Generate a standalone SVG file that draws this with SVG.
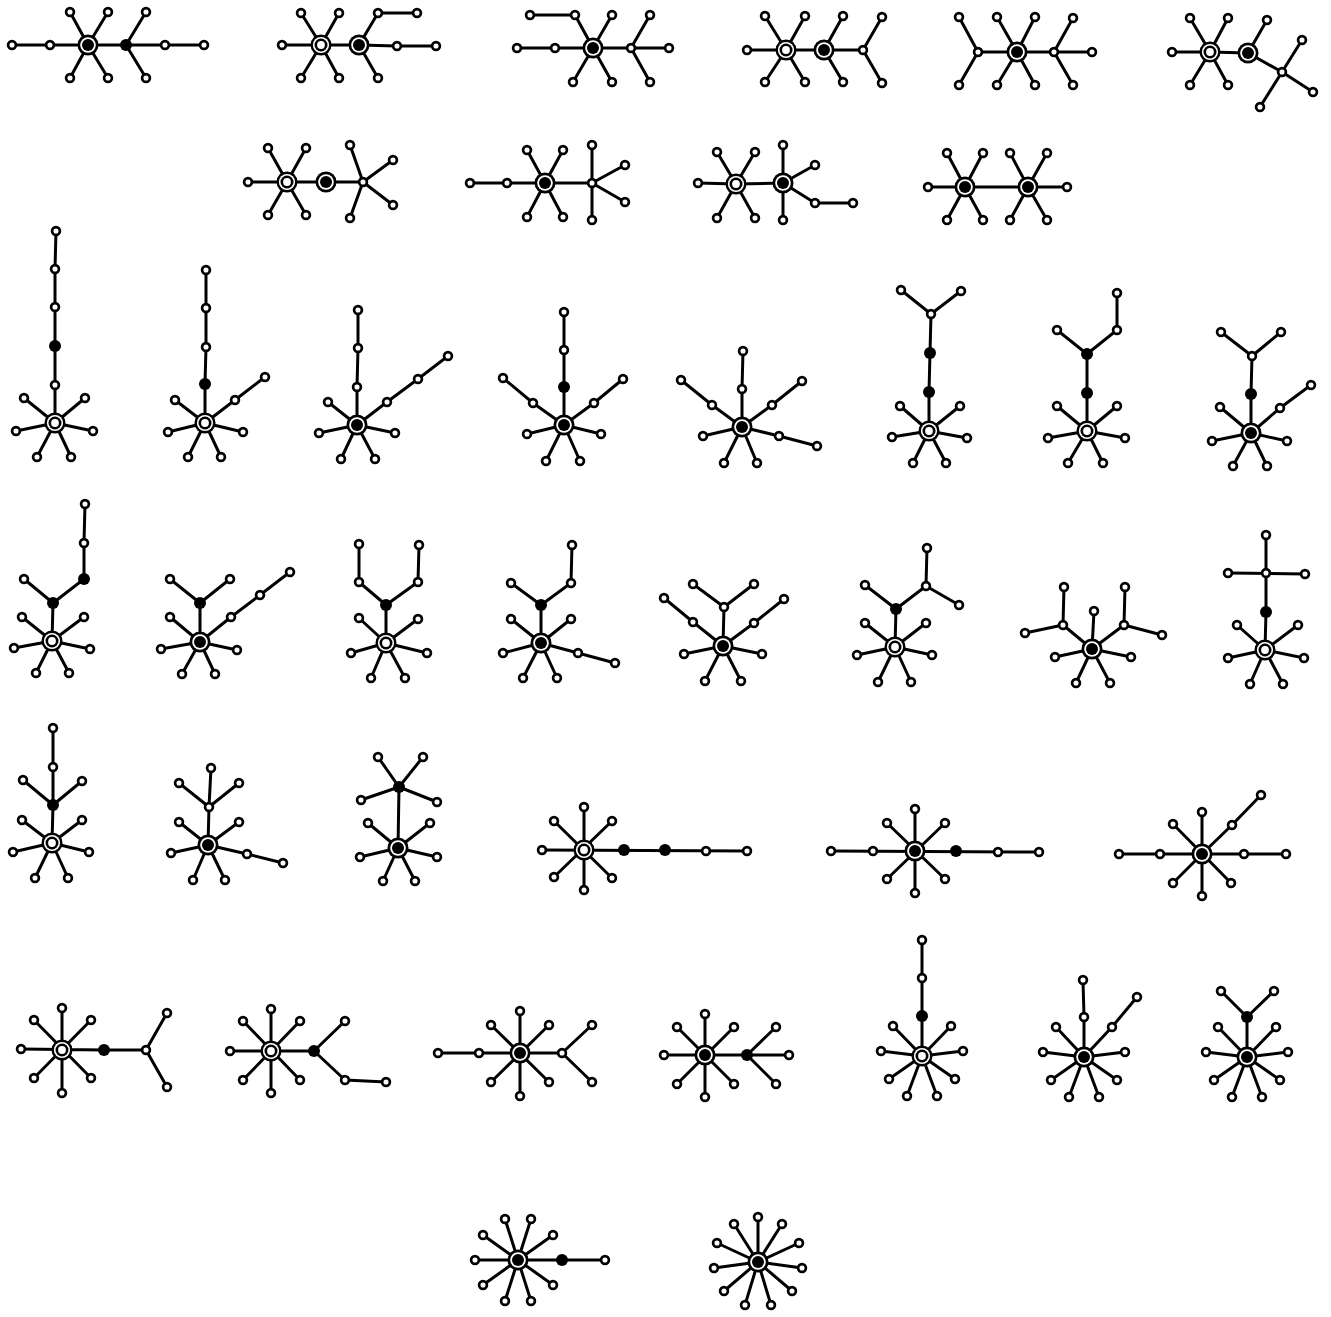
<svg xmlns="http://www.w3.org/2000/svg" xmlns:xlink="http://www.w3.org/1999/xlink" width="1331" height="1317" viewBox="0 0 1331 1317">
<style>
.e{fill:none;stroke:#000;stroke-width:3;stroke-linecap:round;stroke-linejoin:round}
.l circle{fill:#fff;stroke:#000;stroke-width:2.7;r:3.9px}
.b circle{fill:#000;r:6px}
</style>
<defs>
<g id="F"><circle r="10.5" fill="#000"/><circle r="7.8" fill="#fff"/><circle r="6" fill="#000"/></g>
<g id="O"><circle r="10.5" fill="#000"/><circle r="8.1" fill="#fff"/><circle r="6.5" fill="#000"/><circle r="3.9" fill="#fff"/></g>
</defs>
<rect width="1331" height="1317" fill="#fff"/>
<g id="connectors" class="e">
<path d="M12 45H204M88 45L70 12M88 45L108 12M88 45L70 78M88 45L108 78M126 45L146 12M126 45L146 78"/>
<path d="M282 45L321 45L359 45L397 46L436 46M321 45L301 13M321 45L339 13M321 45L301 78M321 45L339 78M359 45L378 13L417 13M359 45L378 78"/>
<path d="M530 15L575 15L593 48M517 48L669 48M593 48L612 15M593 48L573 82M593 48L612 82M631 48L650 15M631 48L650 82"/>
<path d="M747 50L863 50M786 50L765 16M786 50L805 16M786 50L765 82M786 50L805 82M824 50L843 16M824 50L843 82M863 50L882 17M863 50L882 83"/>
<path d="M978 52L1092 52M978 52L959 17M978 52L959 85M1017 52L997 17M1017 52L1035 17M1017 52L997 85M1017 52L1035 85M1054 52L1073 18M1054 52L1073 85"/>
<path d="M1172 52L1210 52L1248 53L1282 72M1210 52L1190 18M1210 52L1228 18M1210 52L1190 85M1210 52L1228 85M1248 53L1267 20M1282 72L1302 40M1282 72L1313 92M1282 72L1260 107"/>
<path d="M248 182L363 182M287 182L268 148M287 182L306 148M287 182L268 215M287 182L306 215M363 182L350 145M363 182L393 160M363 182L393 205M363 182L350 218"/>
<path d="M470 183L592 183M545 183L527 150M545 183L563 150M545 183L527 217M545 183L563 217M592 183L592 145M592 183L625 165M592 183L625 202M592 183L592 220"/>
<path d="M698 183L736 184L783 183M736 184L717 152M736 184L755 152M736 184L717 218M736 184L755 218M783 183L783 145M783 183L815 165M783 183L815 203L853 203M783 183L783 220"/>
<path d="M928 187L1067 187M965 187L947 153M965 187L983 153M965 187L947 220M965 187L983 220M1028 187L1010 153M1028 187L1047 153M1028 187L1010 220M1028 187L1047 220"/>
<path d="M55 423L55 269L56 231M55 423L24 398M55 423L85 398M55 423L16 431M55 423L93 431M55 423L37 457M55 423L71 457"/>
<path d="M205 423L205 384L206 347L206 270M205 423L235 400L265 377M205 423L175 400M205 423L168 432M205 423L243 432M205 423L188 457M205 423L221 457"/>
<path d="M357 425L357 387L358 348L358 310M357 425L387 402L418 379L448 356M357 425L328 402M357 425L319 433M357 425L395 433M357 425L341 459M357 425L375 459"/>
<path d="M564 425L564 312M564 425L533 403L503 378M564 425L594 403L623 379M564 425L527 434M564 425L601 434M564 425L546 461M564 425L580 461"/>
<path d="M742 427L742 389L743 351M742 427L712 405L681 380M742 427L772 405L802 381M742 427L703 436M742 427L779 436L817 446M742 427L724 463M742 427L757 463"/>
<path d="M929 431L929 392L930 353L931 314L901 290M931 314L961 291M929 431L900 406M929 431L960 406M929 431L892 437M929 431L967 438M929 431L913 463M929 431L946 463"/>
<path d="M1087 431L1087 354L1057 330M1087 354L1117 330L1117 293M1087 431L1057 406M1087 431L1117 406M1087 431L1048 438M1087 431L1125 438M1087 431L1068 463M1087 431L1103 463"/>
<path d="M1251 433L1251 394L1252 356L1221 332M1252 356L1281 332M1251 433L1280 408L1311 385M1251 433L1220 407M1251 433L1212 441M1251 433L1287 441M1251 433L1233 466M1251 433L1267 466"/>
<path d="M52 641L53 603L84 579L84 543L85 504M53 603L24 579M52 641L22 617M52 641L84 617M52 641L14 648M52 641L90 649M52 641L36 673M52 641L69 673"/>
<path d="M200 642L200 603L170 579M200 603L230 579M200 642L231 617L260 595L290 572M200 642L170 617M200 642L161 649M200 642L237 650M200 642L182 674M200 642L215 674"/>
<path d="M386 643L386 605L359 582L359 544M386 605L418 582L419 545M386 643L359 618M386 643L418 619M386 643L351 653M386 643L427 653M386 643L371 678M386 643L405 678"/>
<path d="M541 643L541 605L511 583M541 605L571 583L572 545M541 643L578 653L615 663M541 643L511 619M541 643L571 619M541 643L503 653M541 643L523 678M541 643L557 678"/>
<path d="M723 646L724 607L693 584M724 607L754 584M723 646L693 622L664 598M723 646L754 623L784 599M723 646L684 654M723 646L762 654M723 646L705 681M723 646L741 681"/>
<path d="M895 647L896 609L865 585M896 609L926 586L927 548M926 586L959 605M895 647L865 623M895 647L926 623M895 647L857 655M895 647L932 655M895 647L878 682M895 647L911 682"/>
<path d="M1092 649L1063 625L1064 587M1063 625L1025 633M1092 649L1124 625L1125 587M1124 625L1162 635M1092 649L1094 611M1092 649L1055 657M1092 649L1131 657M1092 649L1076 683M1092 649L1110 683"/>
<path d="M1265 650L1266 612L1266 535M1228 573L1305 574M1265 650L1237 625M1265 650L1298 625M1265 650L1228 658M1265 650L1304 658M1265 650L1250 684M1265 650L1283 684"/>
<path d="M52 843L53 805L53 767L53 728M53 805L23 780M53 805L82 781M52 843L22 820M52 843L82 820M52 843L13 852M52 843L89 852M52 843L35 878M52 843L68 878"/>
<path d="M208 845L209 807L211 768M209 807L179 783M209 807L239 783M208 845L247 854L283 863M208 845L179 822M208 845L239 822M208 845L171 853M208 845L193 880M208 845L225 880"/>
<path d="M398 848L399 787L378 757M399 787L423 757M399 787L361 800M399 787L437 802M398 848L368 823M398 848L430 823M398 848L360 857M398 848L437 857M398 848L383 881M398 848L415 881"/>
<path d="M542 850L747 851M584 807L584 890M554 821L612 878M612 821L554 877"/>
<path d="M831 851L1039 852M915 809L915 893M887 823L945 879M945 823L887 879"/>
<path d="M1119 854L1286 854M1202 812L1202 896M1173 824L1231 883M1202 854L1232 825L1261 795M1202 854L1173 883"/>
<path d="M21 1049L104 1050L146 1050M62 1008L62 1093M34 1020L91 1078M91 1020L34 1078M146 1050L167 1013M146 1050L167 1087"/>
<path d="M230 1051L314 1051L345 1021M314 1051L345 1080L386 1082M271 1009L271 1093M243 1021L300 1080M300 1021L243 1080"/>
<path d="M438 1053L562 1053L592 1025M562 1053L592 1082M520 1011L520 1096M491 1025L549 1082M549 1025L491 1082"/>
<path d="M664 1055L789 1055M747 1055L776 1027M747 1055L776 1084M705 1014L705 1097M677 1027L734 1084M734 1027L677 1084"/>
<path d="M922 1056L922 940M922 1056L893 1026M922 1056L951 1026M922 1056L881 1051M922 1056L963 1051M922 1056L889 1079M922 1056L955 1079M922 1056L907 1096M922 1056L937 1096"/>
<path d="M1084 1057L1084 1017L1083 980M1084 1057L1112 1027L1137 997M1084 1057L1056 1027M1084 1057L1043 1052M1084 1057L1125 1052M1084 1057L1051 1080M1084 1057L1117 1080M1084 1057L1069 1097M1084 1057L1099 1097"/>
<path d="M1247 1057L1247 1017L1221 991M1247 1017L1274 991M1247 1057L1218 1027M1247 1057L1276 1027M1247 1057L1206 1052M1247 1057L1288 1052M1247 1057L1214 1080M1247 1057L1280 1080M1247 1057L1232 1097M1247 1057L1262 1097"/>
<path d="M518 1260L605 1260M518 1260L553 1235M518 1260L531 1219M518 1260L505 1219M518 1260L483 1235M518 1260L475 1260M518 1260L483 1285M518 1260L505 1301M518 1260L531 1301M518 1260L553 1285"/>
<path d="M758 1262L758 1217M758 1262L782 1224M758 1262L799 1243M758 1262L802 1268M758 1262L792 1291M758 1262L771 1305M758 1262L745 1305M758 1262L724 1291M758 1262L714 1268M758 1262L717 1243M758 1262L734 1224"/>
</g>
<g id="tree1"><g class="l"><circle cx="12" cy="45" r="3.9"/><circle cx="50" cy="45" r="3.9"/><circle cx="165" cy="45" r="3.9"/><circle cx="204" cy="45" r="3.9"/><circle cx="70" cy="12" r="3.9"/><circle cx="108" cy="12" r="3.9"/><circle cx="70" cy="78" r="3.9"/><circle cx="108" cy="78" r="3.9"/><circle cx="146" cy="12" r="3.9"/><circle cx="146" cy="78" r="3.9"/></g><g class="b"><circle cx="126" cy="45" r="6"/></g><use href="#F" x="88" y="45"/></g>
<g id="tree2"><g class="l"><circle cx="282" cy="45" r="3.9"/><circle cx="397" cy="46" r="3.9"/><circle cx="436" cy="46" r="3.9"/><circle cx="301" cy="13" r="3.9"/><circle cx="339" cy="13" r="3.9"/><circle cx="301" cy="78" r="3.9"/><circle cx="339" cy="78" r="3.9"/><circle cx="378" cy="13" r="3.9"/><circle cx="417" cy="13" r="3.9"/><circle cx="378" cy="78" r="3.9"/></g><use href="#O" x="321" y="45"/><use href="#F" x="359" y="45"/></g>
<g id="tree3"><g class="l"><circle cx="530" cy="15" r="3.9"/><circle cx="575" cy="15" r="3.9"/><circle cx="517" cy="48" r="3.9"/><circle cx="555" cy="48" r="3.9"/><circle cx="612" cy="15" r="3.9"/><circle cx="631" cy="48" r="3.9"/><circle cx="650" cy="15" r="3.9"/><circle cx="669" cy="48" r="3.9"/><circle cx="650" cy="82" r="3.9"/><circle cx="573" cy="82" r="3.9"/><circle cx="612" cy="82" r="3.9"/></g><use href="#F" x="593" y="48"/></g>
<g id="tree4"><g class="l"><circle cx="747" cy="50" r="3.9"/><circle cx="863" cy="50" r="3.9"/><circle cx="765" cy="16" r="3.9"/><circle cx="805" cy="16" r="3.9"/><circle cx="765" cy="82" r="3.9"/><circle cx="805" cy="82" r="3.9"/><circle cx="843" cy="16" r="3.9"/><circle cx="843" cy="82" r="3.9"/><circle cx="882" cy="17" r="3.9"/><circle cx="882" cy="83" r="3.9"/></g><use href="#O" x="786" y="50"/><use href="#F" x="824" y="50"/></g>
<g id="tree5"><g class="l"><circle cx="978" cy="52" r="3.9"/><circle cx="959" cy="17" r="3.9"/><circle cx="959" cy="85" r="3.9"/><circle cx="997" cy="17" r="3.9"/><circle cx="1035" cy="17" r="3.9"/><circle cx="997" cy="85" r="3.9"/><circle cx="1035" cy="85" r="3.9"/><circle cx="1054" cy="52" r="3.9"/><circle cx="1073" cy="18" r="3.9"/><circle cx="1092" cy="52" r="3.9"/><circle cx="1073" cy="85" r="3.9"/></g><use href="#F" x="1017" y="52"/></g>
<g id="tree6"><g class="l"><circle cx="1172" cy="52" r="3.9"/><circle cx="1190" cy="18" r="3.9"/><circle cx="1228" cy="18" r="3.9"/><circle cx="1190" cy="85" r="3.9"/><circle cx="1228" cy="85" r="3.9"/><circle cx="1267" cy="20" r="3.9"/><circle cx="1282" cy="72" r="3.9"/><circle cx="1302" cy="40" r="3.9"/><circle cx="1313" cy="92" r="3.9"/><circle cx="1260" cy="107" r="3.9"/></g><use href="#O" x="1210" y="52"/><use href="#F" x="1248" y="53"/></g>
<g id="tree7"><g class="l"><circle cx="248" cy="182" r="3.9"/><circle cx="363" cy="182" r="3.9"/><circle cx="268" cy="148" r="3.9"/><circle cx="306" cy="148" r="3.9"/><circle cx="268" cy="215" r="3.9"/><circle cx="306" cy="215" r="3.9"/><circle cx="350" cy="145" r="3.9"/><circle cx="393" cy="160" r="3.9"/><circle cx="393" cy="205" r="3.9"/><circle cx="350" cy="218" r="3.9"/></g><use href="#O" x="287" y="182"/><use href="#F" x="326" y="182"/></g>
<g id="tree8"><g class="l"><circle cx="470" cy="183" r="3.9"/><circle cx="507" cy="183" r="3.9"/><circle cx="592" cy="183" r="3.9"/><circle cx="527" cy="150" r="3.9"/><circle cx="563" cy="150" r="3.9"/><circle cx="527" cy="217" r="3.9"/><circle cx="563" cy="217" r="3.9"/><circle cx="592" cy="145" r="3.9"/><circle cx="625" cy="165" r="3.9"/><circle cx="625" cy="202" r="3.9"/><circle cx="592" cy="220" r="3.9"/></g><use href="#F" x="545" y="183"/></g>
<g id="tree9"><g class="l"><circle cx="698" cy="183" r="3.9"/><circle cx="717" cy="152" r="3.9"/><circle cx="755" cy="152" r="3.9"/><circle cx="717" cy="218" r="3.9"/><circle cx="755" cy="218" r="3.9"/><circle cx="783" cy="145" r="3.9"/><circle cx="815" cy="165" r="3.9"/><circle cx="815" cy="203" r="3.9"/><circle cx="853" cy="203" r="3.9"/><circle cx="783" cy="220" r="3.9"/></g><use href="#O" x="736" y="184"/><use href="#F" x="783" y="183"/></g>
<g id="tree10"><g class="l"><circle cx="928" cy="187" r="3.9"/><circle cx="1067" cy="187" r="3.9"/><circle cx="947" cy="153" r="3.9"/><circle cx="983" cy="153" r="3.9"/><circle cx="947" cy="220" r="3.9"/><circle cx="983" cy="220" r="3.9"/><circle cx="1010" cy="153" r="3.9"/><circle cx="1047" cy="153" r="3.9"/><circle cx="1010" cy="220" r="3.9"/><circle cx="1047" cy="220" r="3.9"/></g><use href="#F" x="965" y="187"/><use href="#F" x="1028" y="187"/></g>
<g id="tree11"><g class="l"><circle cx="55" cy="385" r="3.9"/><circle cx="55" cy="307" r="3.9"/><circle cx="55" cy="269" r="3.9"/><circle cx="56" cy="231" r="3.9"/><circle cx="24" cy="398" r="3.9"/><circle cx="85" cy="398" r="3.9"/><circle cx="16" cy="431" r="3.9"/><circle cx="93" cy="431" r="3.9"/><circle cx="37" cy="457" r="3.9"/><circle cx="71" cy="457" r="3.9"/></g><g class="b"><circle cx="55" cy="346" r="6"/></g><use href="#O" x="55" y="423"/></g>
<g id="tree12"><g class="l"><circle cx="206" cy="347" r="3.9"/><circle cx="206" cy="308" r="3.9"/><circle cx="206" cy="270" r="3.9"/><circle cx="235" cy="400" r="3.9"/><circle cx="265" cy="377" r="3.9"/><circle cx="175" cy="400" r="3.9"/><circle cx="168" cy="432" r="3.9"/><circle cx="243" cy="432" r="3.9"/><circle cx="188" cy="457" r="3.9"/><circle cx="221" cy="457" r="3.9"/></g><g class="b"><circle cx="205" cy="384" r="6"/></g><use href="#O" x="205" y="423"/></g>
<g id="tree13"><g class="l"><circle cx="357" cy="387" r="3.9"/><circle cx="358" cy="348" r="3.9"/><circle cx="358" cy="310" r="3.9"/><circle cx="387" cy="402" r="3.9"/><circle cx="418" cy="379" r="3.9"/><circle cx="448" cy="356" r="3.9"/><circle cx="328" cy="402" r="3.9"/><circle cx="319" cy="433" r="3.9"/><circle cx="395" cy="433" r="3.9"/><circle cx="341" cy="459" r="3.9"/><circle cx="375" cy="459" r="3.9"/></g><use href="#F" x="357" y="425"/></g>
<g id="tree14"><g class="l"><circle cx="564" cy="350" r="3.9"/><circle cx="564" cy="312" r="3.9"/><circle cx="533" cy="403" r="3.9"/><circle cx="503" cy="378" r="3.9"/><circle cx="594" cy="403" r="3.9"/><circle cx="623" cy="379" r="3.9"/><circle cx="527" cy="434" r="3.9"/><circle cx="601" cy="434" r="3.9"/><circle cx="546" cy="461" r="3.9"/><circle cx="580" cy="461" r="3.9"/></g><g class="b"><circle cx="564" cy="387" r="6"/></g><use href="#F" x="564" y="425"/></g>
<g id="tree15"><g class="l"><circle cx="742" cy="389" r="3.9"/><circle cx="743" cy="351" r="3.9"/><circle cx="712" cy="405" r="3.9"/><circle cx="681" cy="380" r="3.9"/><circle cx="772" cy="405" r="3.9"/><circle cx="802" cy="381" r="3.9"/><circle cx="703" cy="436" r="3.9"/><circle cx="779" cy="436" r="3.9"/><circle cx="817" cy="446" r="3.9"/><circle cx="724" cy="463" r="3.9"/><circle cx="757" cy="463" r="3.9"/></g><use href="#F" x="742" y="427"/></g>
<g id="tree16"><g class="l"><circle cx="931" cy="314" r="3.9"/><circle cx="901" cy="290" r="3.9"/><circle cx="961" cy="291" r="3.9"/><circle cx="900" cy="406" r="3.9"/><circle cx="960" cy="406" r="3.9"/><circle cx="892" cy="437" r="3.9"/><circle cx="967" cy="438" r="3.9"/><circle cx="913" cy="463" r="3.9"/><circle cx="946" cy="463" r="3.9"/></g><g class="b"><circle cx="929" cy="392" r="6"/><circle cx="930" cy="353" r="6"/></g><use href="#O" x="929" y="431"/></g>
<g id="tree17"><g class="l"><circle cx="1057" cy="330" r="3.9"/><circle cx="1117" cy="330" r="3.9"/><circle cx="1117" cy="293" r="3.9"/><circle cx="1057" cy="406" r="3.9"/><circle cx="1117" cy="406" r="3.9"/><circle cx="1048" cy="438" r="3.9"/><circle cx="1125" cy="438" r="3.9"/><circle cx="1068" cy="463" r="3.9"/><circle cx="1103" cy="463" r="3.9"/></g><g class="b"><circle cx="1087" cy="393" r="6"/><circle cx="1087" cy="354" r="6"/></g><use href="#O" x="1087" y="431"/></g>
<g id="tree18"><g class="l"><circle cx="1252" cy="356" r="3.9"/><circle cx="1221" cy="332" r="3.9"/><circle cx="1281" cy="332" r="3.9"/><circle cx="1280" cy="408" r="3.9"/><circle cx="1311" cy="385" r="3.9"/><circle cx="1220" cy="407" r="3.9"/><circle cx="1212" cy="441" r="3.9"/><circle cx="1287" cy="441" r="3.9"/><circle cx="1233" cy="466" r="3.9"/><circle cx="1267" cy="466" r="3.9"/></g><g class="b"><circle cx="1251" cy="394" r="6"/></g><use href="#F" x="1251" y="433"/></g>
<g id="tree19"><g class="l"><circle cx="84" cy="543" r="3.9"/><circle cx="85" cy="504" r="3.9"/><circle cx="24" cy="579" r="3.9"/><circle cx="22" cy="617" r="3.9"/><circle cx="84" cy="617" r="3.9"/><circle cx="14" cy="648" r="3.9"/><circle cx="90" cy="649" r="3.9"/><circle cx="36" cy="673" r="3.9"/><circle cx="69" cy="673" r="3.9"/></g><g class="b"><circle cx="53" cy="603" r="6"/><circle cx="84" cy="579" r="6"/></g><use href="#O" x="52" y="641"/></g>
<g id="tree20"><g class="l"><circle cx="170" cy="579" r="3.9"/><circle cx="230" cy="579" r="3.9"/><circle cx="231" cy="617" r="3.9"/><circle cx="260" cy="595" r="3.9"/><circle cx="290" cy="572" r="3.9"/><circle cx="170" cy="617" r="3.9"/><circle cx="161" cy="649" r="3.9"/><circle cx="237" cy="650" r="3.9"/><circle cx="182" cy="674" r="3.9"/><circle cx="215" cy="674" r="3.9"/></g><g class="b"><circle cx="200" cy="603" r="6"/></g><use href="#F" x="200" y="642"/></g>
<g id="tree21"><g class="l"><circle cx="359" cy="582" r="3.9"/><circle cx="359" cy="544" r="3.9"/><circle cx="418" cy="582" r="3.9"/><circle cx="419" cy="545" r="3.9"/><circle cx="359" cy="618" r="3.9"/><circle cx="418" cy="619" r="3.9"/><circle cx="351" cy="653" r="3.9"/><circle cx="427" cy="653" r="3.9"/><circle cx="371" cy="678" r="3.9"/><circle cx="405" cy="678" r="3.9"/></g><g class="b"><circle cx="386" cy="605" r="6"/></g><use href="#O" x="386" y="643"/></g>
<g id="tree22"><g class="l"><circle cx="511" cy="583" r="3.9"/><circle cx="571" cy="583" r="3.9"/><circle cx="572" cy="545" r="3.9"/><circle cx="578" cy="653" r="3.9"/><circle cx="615" cy="663" r="3.9"/><circle cx="511" cy="619" r="3.9"/><circle cx="571" cy="619" r="3.9"/><circle cx="503" cy="653" r="3.9"/><circle cx="523" cy="678" r="3.9"/><circle cx="557" cy="678" r="3.9"/></g><g class="b"><circle cx="541" cy="605" r="6"/></g><use href="#F" x="541" y="643"/></g>
<g id="tree23"><g class="l"><circle cx="724" cy="607" r="3.9"/><circle cx="693" cy="584" r="3.9"/><circle cx="754" cy="584" r="3.9"/><circle cx="693" cy="622" r="3.9"/><circle cx="664" cy="598" r="3.9"/><circle cx="754" cy="623" r="3.9"/><circle cx="784" cy="599" r="3.9"/><circle cx="684" cy="654" r="3.9"/><circle cx="762" cy="654" r="3.9"/><circle cx="705" cy="681" r="3.9"/><circle cx="741" cy="681" r="3.9"/></g><use href="#F" x="723" y="646"/></g>
<g id="tree24"><g class="l"><circle cx="865" cy="585" r="3.9"/><circle cx="926" cy="586" r="3.9"/><circle cx="927" cy="548" r="3.9"/><circle cx="959" cy="605" r="3.9"/><circle cx="865" cy="623" r="3.9"/><circle cx="926" cy="623" r="3.9"/><circle cx="857" cy="655" r="3.9"/><circle cx="932" cy="655" r="3.9"/><circle cx="878" cy="682" r="3.9"/><circle cx="911" cy="682" r="3.9"/></g><g class="b"><circle cx="896" cy="609" r="6"/></g><use href="#O" x="895" y="647"/></g>
<g id="tree25"><g class="l"><circle cx="1063" cy="625" r="3.9"/><circle cx="1064" cy="587" r="3.9"/><circle cx="1025" cy="633" r="3.9"/><circle cx="1124" cy="625" r="3.9"/><circle cx="1125" cy="587" r="3.9"/><circle cx="1162" cy="635" r="3.9"/><circle cx="1094" cy="611" r="3.9"/><circle cx="1055" cy="657" r="3.9"/><circle cx="1131" cy="657" r="3.9"/><circle cx="1076" cy="683" r="3.9"/><circle cx="1110" cy="683" r="3.9"/></g><use href="#F" x="1092" y="649"/></g>
<g id="tree26"><g class="l"><circle cx="1266" cy="573" r="3.9"/><circle cx="1266" cy="535" r="3.9"/><circle cx="1228" cy="573" r="3.9"/><circle cx="1305" cy="574" r="3.9"/><circle cx="1237" cy="625" r="3.9"/><circle cx="1298" cy="625" r="3.9"/><circle cx="1228" cy="658" r="3.9"/><circle cx="1304" cy="658" r="3.9"/><circle cx="1250" cy="684" r="3.9"/><circle cx="1283" cy="684" r="3.9"/></g><g class="b"><circle cx="1266" cy="612" r="6"/></g><use href="#O" x="1265" y="650"/></g>
<g id="tree27"><g class="l"><circle cx="23" cy="780" r="3.9"/><circle cx="82" cy="781" r="3.9"/><circle cx="53" cy="767" r="3.9"/><circle cx="53" cy="728" r="3.9"/><circle cx="22" cy="820" r="3.9"/><circle cx="82" cy="820" r="3.9"/><circle cx="13" cy="852" r="3.9"/><circle cx="89" cy="852" r="3.9"/><circle cx="35" cy="878" r="3.9"/><circle cx="68" cy="878" r="3.9"/></g><g class="b"><circle cx="53" cy="805" r="6"/></g><use href="#O" x="52" y="843"/></g>
<g id="tree28"><g class="l"><circle cx="209" cy="807" r="3.9"/><circle cx="179" cy="783" r="3.9"/><circle cx="211" cy="768" r="3.9"/><circle cx="239" cy="783" r="3.9"/><circle cx="247" cy="854" r="3.9"/><circle cx="283" cy="863" r="3.9"/><circle cx="179" cy="822" r="3.9"/><circle cx="239" cy="822" r="3.9"/><circle cx="171" cy="853" r="3.9"/><circle cx="193" cy="880" r="3.9"/><circle cx="225" cy="880" r="3.9"/></g><use href="#F" x="208" y="845"/></g>
<g id="tree29"><g class="l"><circle cx="378" cy="757" r="3.9"/><circle cx="423" cy="757" r="3.9"/><circle cx="361" cy="800" r="3.9"/><circle cx="437" cy="802" r="3.9"/><circle cx="368" cy="823" r="3.9"/><circle cx="430" cy="823" r="3.9"/><circle cx="360" cy="857" r="3.9"/><circle cx="437" cy="857" r="3.9"/><circle cx="383" cy="881" r="3.9"/><circle cx="415" cy="881" r="3.9"/></g><g class="b"><circle cx="399" cy="787" r="6"/></g><use href="#F" x="398" y="848"/></g>
<g id="tree30"><g class="l"><circle cx="706" cy="851" r="3.9"/><circle cx="747" cy="851" r="3.9"/><circle cx="542" cy="850" r="3.9"/><circle cx="584" cy="807" r="3.9"/><circle cx="584" cy="890" r="3.9"/><circle cx="554" cy="821" r="3.9"/><circle cx="612" cy="821" r="3.9"/><circle cx="554" cy="877" r="3.9"/><circle cx="612" cy="878" r="3.9"/></g><g class="b"><circle cx="624" cy="850" r="6"/><circle cx="665" cy="850" r="6"/></g><use href="#O" x="584" y="850"/></g>
<g id="tree31"><g class="l"><circle cx="873" cy="851" r="3.9"/><circle cx="831" cy="851" r="3.9"/><circle cx="998" cy="852" r="3.9"/><circle cx="1039" cy="852" r="3.9"/><circle cx="915" cy="809" r="3.9"/><circle cx="915" cy="893" r="3.9"/><circle cx="887" cy="823" r="3.9"/><circle cx="945" cy="823" r="3.9"/><circle cx="887" cy="879" r="3.9"/><circle cx="945" cy="879" r="3.9"/></g><g class="b"><circle cx="956" cy="851" r="6"/></g><use href="#F" x="915" y="851"/></g>
<g id="tree32"><g class="l"><circle cx="1160" cy="854" r="3.9"/><circle cx="1119" cy="854" r="3.9"/><circle cx="1244" cy="854" r="3.9"/><circle cx="1286" cy="854" r="3.9"/><circle cx="1202" cy="812" r="3.9"/><circle cx="1202" cy="896" r="3.9"/><circle cx="1173" cy="824" r="3.9"/><circle cx="1232" cy="825" r="3.9"/><circle cx="1261" cy="795" r="3.9"/><circle cx="1173" cy="883" r="3.9"/><circle cx="1231" cy="883" r="3.9"/></g><use href="#F" x="1202" y="854"/></g>
<g id="tree33"><g class="l"><circle cx="21" cy="1049" r="3.9"/><circle cx="62" cy="1008" r="3.9"/><circle cx="62" cy="1093" r="3.9"/><circle cx="34" cy="1020" r="3.9"/><circle cx="91" cy="1020" r="3.9"/><circle cx="34" cy="1078" r="3.9"/><circle cx="91" cy="1078" r="3.9"/><circle cx="146" cy="1050" r="3.9"/><circle cx="167" cy="1013" r="3.9"/><circle cx="167" cy="1087" r="3.9"/></g><g class="b"><circle cx="104" cy="1050" r="6"/></g><use href="#O" x="62" y="1050"/></g>
<g id="tree34"><g class="l"><circle cx="230" cy="1051" r="3.9"/><circle cx="271" cy="1009" r="3.9"/><circle cx="271" cy="1093" r="3.9"/><circle cx="243" cy="1021" r="3.9"/><circle cx="300" cy="1021" r="3.9"/><circle cx="243" cy="1080" r="3.9"/><circle cx="300" cy="1080" r="3.9"/><circle cx="345" cy="1021" r="3.9"/><circle cx="345" cy="1080" r="3.9"/><circle cx="386" cy="1082" r="3.9"/></g><g class="b"><circle cx="314" cy="1051" r="6"/></g><use href="#O" x="271" y="1051"/></g>
<g id="tree35"><g class="l"><circle cx="479" cy="1053" r="3.9"/><circle cx="438" cy="1053" r="3.9"/><circle cx="520" cy="1011" r="3.9"/><circle cx="520" cy="1096" r="3.9"/><circle cx="491" cy="1025" r="3.9"/><circle cx="549" cy="1025" r="3.9"/><circle cx="491" cy="1082" r="3.9"/><circle cx="549" cy="1082" r="3.9"/><circle cx="562" cy="1053" r="3.9"/><circle cx="592" cy="1025" r="3.9"/><circle cx="592" cy="1082" r="3.9"/></g><use href="#F" x="520" y="1053"/></g>
<g id="tree36"><g class="l"><circle cx="664" cy="1055" r="3.9"/><circle cx="705" cy="1014" r="3.9"/><circle cx="705" cy="1097" r="3.9"/><circle cx="677" cy="1027" r="3.9"/><circle cx="734" cy="1027" r="3.9"/><circle cx="677" cy="1084" r="3.9"/><circle cx="734" cy="1084" r="3.9"/><circle cx="776" cy="1027" r="3.9"/><circle cx="776" cy="1084" r="3.9"/><circle cx="789" cy="1055" r="3.9"/></g><g class="b"><circle cx="747" cy="1055" r="6"/></g><use href="#F" x="705" y="1055"/></g>
<g id="tree37"><g class="l"><circle cx="922" cy="978" r="3.9"/><circle cx="922" cy="940" r="3.9"/><circle cx="893" cy="1026" r="3.9"/><circle cx="951" cy="1026" r="3.9"/><circle cx="881" cy="1051" r="3.9"/><circle cx="963" cy="1051" r="3.9"/><circle cx="889" cy="1079" r="3.9"/><circle cx="955" cy="1079" r="3.9"/><circle cx="907" cy="1096" r="3.9"/><circle cx="937" cy="1096" r="3.9"/></g><g class="b"><circle cx="922" cy="1016" r="6"/></g><use href="#O" x="922" y="1056"/></g>
<g id="tree38"><g class="l"><circle cx="1084" cy="1017" r="3.9"/><circle cx="1083" cy="980" r="3.9"/><circle cx="1112" cy="1027" r="3.9"/><circle cx="1137" cy="997" r="3.9"/><circle cx="1056" cy="1027" r="3.9"/><circle cx="1043" cy="1052" r="3.9"/><circle cx="1125" cy="1052" r="3.9"/><circle cx="1051" cy="1080" r="3.9"/><circle cx="1117" cy="1080" r="3.9"/><circle cx="1069" cy="1097" r="3.9"/><circle cx="1099" cy="1097" r="3.9"/></g><use href="#F" x="1084" y="1057"/></g>
<g id="tree39"><g class="l"><circle cx="1221" cy="991" r="3.9"/><circle cx="1274" cy="991" r="3.9"/><circle cx="1218" cy="1027" r="3.9"/><circle cx="1276" cy="1027" r="3.9"/><circle cx="1206" cy="1052" r="3.9"/><circle cx="1288" cy="1052" r="3.9"/><circle cx="1214" cy="1080" r="3.9"/><circle cx="1280" cy="1080" r="3.9"/><circle cx="1232" cy="1097" r="3.9"/><circle cx="1262" cy="1097" r="3.9"/></g><g class="b"><circle cx="1247" cy="1017" r="6"/></g><use href="#F" x="1247" y="1057"/></g>
<g id="tree40"><g class="l"><circle cx="605" cy="1260" r="3.9"/><circle cx="553" cy="1235" r="3.9"/><circle cx="531" cy="1219" r="3.9"/><circle cx="505" cy="1219" r="3.9"/><circle cx="483" cy="1235" r="3.9"/><circle cx="475" cy="1260" r="3.9"/><circle cx="483" cy="1285" r="3.9"/><circle cx="505" cy="1301" r="3.9"/><circle cx="531" cy="1301" r="3.9"/><circle cx="553" cy="1285" r="3.9"/></g><g class="b"><circle cx="562" cy="1260" r="6"/></g><use href="#F" x="518" y="1260"/></g>
<g id="tree41"><g class="l"><circle cx="758" cy="1217" r="3.9"/><circle cx="782" cy="1224" r="3.9"/><circle cx="799" cy="1243" r="3.9"/><circle cx="802" cy="1268" r="3.9"/><circle cx="792" cy="1291" r="3.9"/><circle cx="771" cy="1305" r="3.9"/><circle cx="745" cy="1305" r="3.9"/><circle cx="724" cy="1291" r="3.9"/><circle cx="714" cy="1268" r="3.9"/><circle cx="717" cy="1243" r="3.9"/><circle cx="734" cy="1224" r="3.9"/></g><use href="#F" x="758" y="1262"/></g>
</svg>
